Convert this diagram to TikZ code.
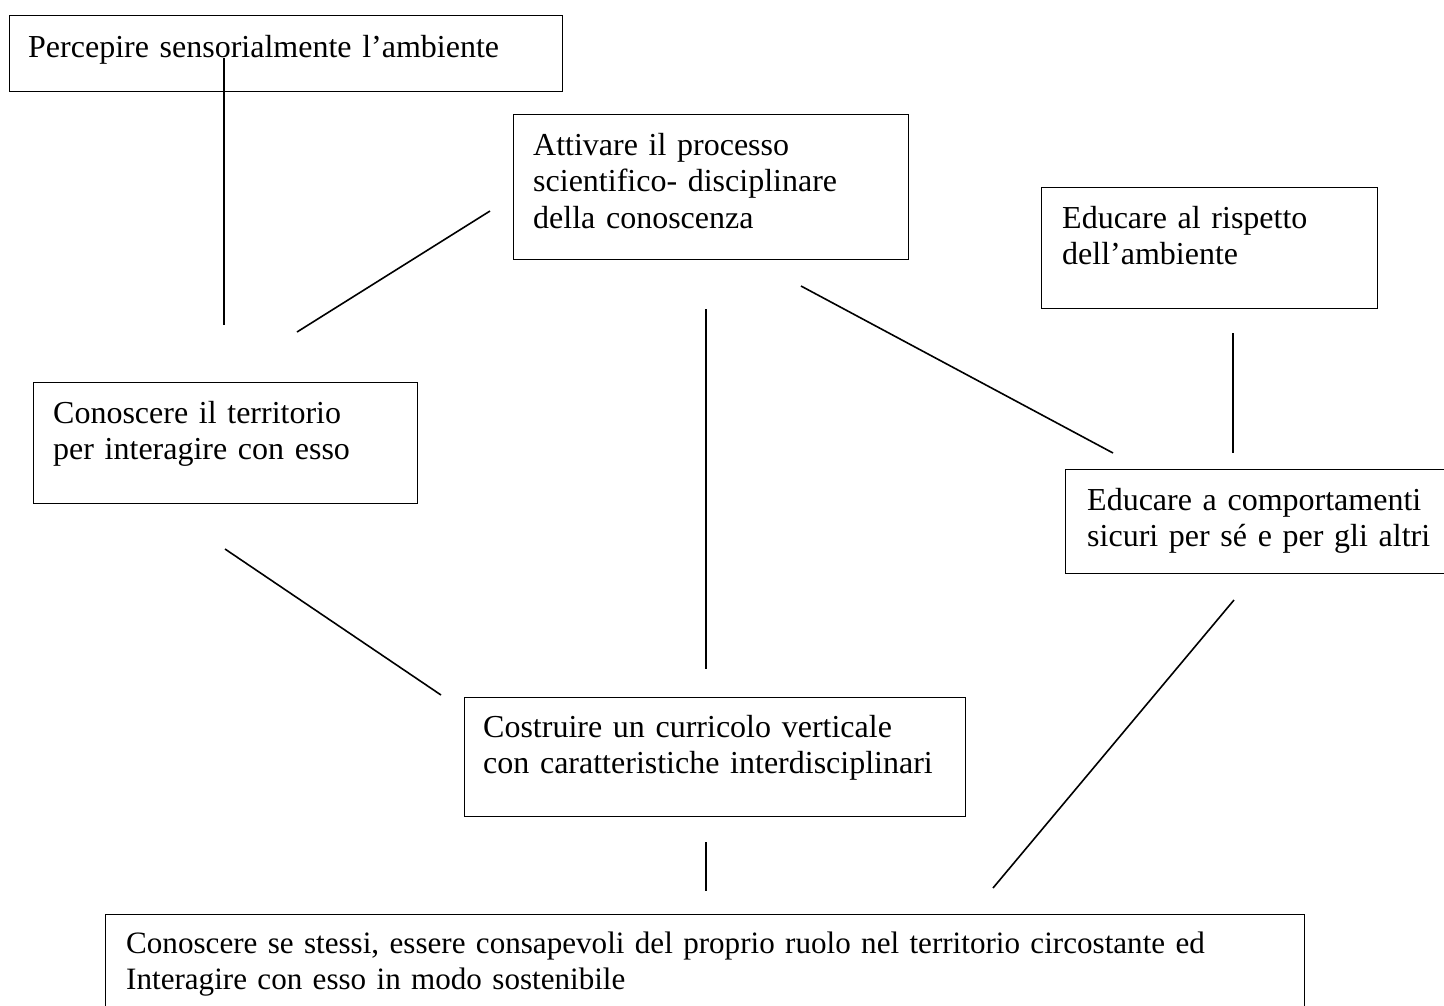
\documentclass[tikz,border=0pt]{standalone}
\usepackage{fontspec}
\setmainfont{Liberation Serif}
\begin{document}
\begin{tikzpicture}[x=1pt,y=-1pt,
  box/.style={draw=black, line width=1.3pt, rectangle, inner sep=0pt, anchor=north west},
  txt/.style={anchor=base west, inner sep=0pt, align=left, text width=#1,
    font=\fontsize{32}{36.8}\selectfont},
  link/.style={draw=black, line width=1.6pt}]
\useasboundingbox (0,0) rectangle (1444,1005);
\clip (0,0) rectangle (1444,1005);
% boxes
\node[box, minimum width=553pt, minimum height=76pt] (b1) at (9,15) {};
\node[txt=520pt] (t1) at (28,57) {Percepire sensorialmente l’ambiente};
\node[box, minimum width=395pt, minimum height=145pt] (b2) at (513,114) {};
\node[txt=360pt] (t2) at (533,155) {Attivare il processo\\scientifico- disciplinare\\della conoscenza};
\node[box, minimum width=336pt, minimum height=121pt] (b3) at (1041,187) {};
\node[txt=310pt] (t3) at (1062,228) {Educare al rispetto\\dell’ambiente};
\node[box, minimum width=384pt, minimum height=121pt] (b4) at (33,382) {};
\node[txt=360pt] (t4) at (53,423) {Conoscere il territorio\\per interagire con esso};
\node[box, minimum width=400pt, minimum height=104pt] (b5) at (1065,469) {};
\node[txt=370pt] (t5) at (1087,510) {Educare a comportamenti\\sicuri per sé e per gli altri};
\node[box, minimum width=501pt, minimum height=119pt] (b6) at (464,697) {};
\node[txt=470pt] (t6) at (483,737) {Costruire un curricolo verticale\\con caratteristiche interdisciplinari};
\node[box, minimum width=1199pt, minimum height=110pt] (b7) at (105,914) {};
\node[txt=1170pt, font=\fontsize{31.1}{36.2}\selectfont] (t7) at (126,953) {Conoscere se stessi, essere consapevoli del proprio ruolo nel territorio circostante ed\\Interagire con esso in modo sostenibile};
% connector end points
\coordinate (l1a) at (224,58);   \coordinate (l1b) at (224,325);
\coordinate (l2a) at (297,332);  \coordinate (l2b) at (490,211);
\coordinate (l3a) at (706,309);  \coordinate (l3b) at (706,669);
\coordinate (l4a) at (801,286);  \coordinate (l4b) at (1113,453);
\coordinate (l5a) at (1233,333); \coordinate (l5b) at (1233,453);
\coordinate (l6a) at (225,549);  \coordinate (l6b) at (441,695);
\coordinate (l7a) at (1234,600); \coordinate (l7b) at (993,888);
\coordinate (l8a) at (706,842);  \coordinate (l8b) at (706,891);
\draw[link] (l1a) -- (l1b);
\draw[link] (l2a) -- (l2b);
\draw[link] (l3a) -- (l3b);
\draw[link] (l4a) -- (l4b);
\draw[link] (l5a) -- (l5b);
\draw[link] (l6a) -- (l6b);
\draw[link] (l7a) -- (l7b);
\draw[link] (l8a) -- (l8b);
\end{tikzpicture}
\end{document}
